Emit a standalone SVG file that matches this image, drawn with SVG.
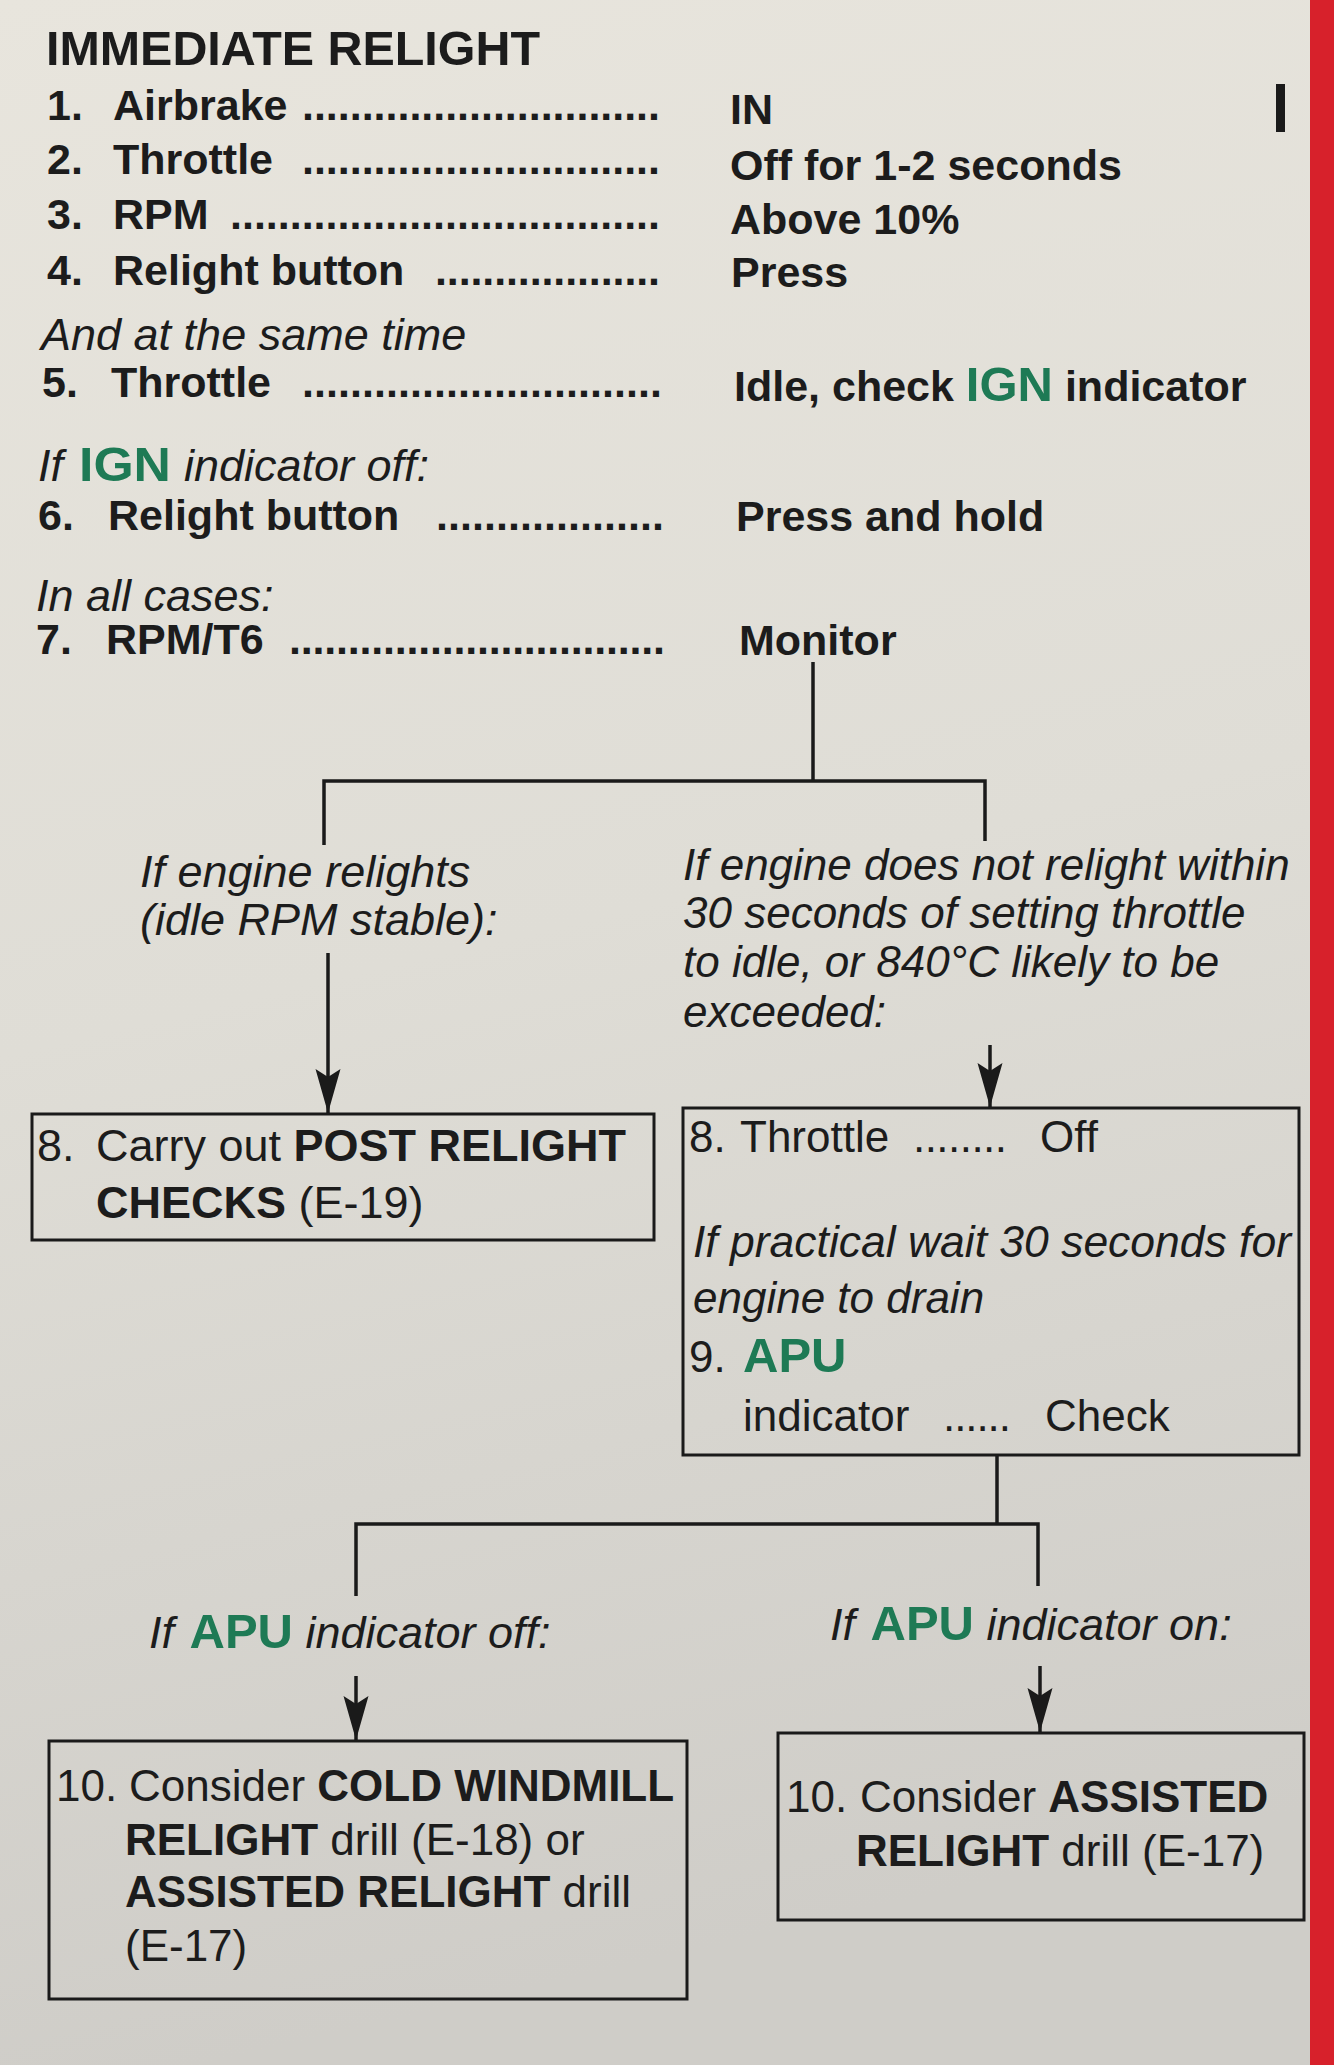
<svg xmlns="http://www.w3.org/2000/svg" width="1334" height="2065" viewBox="0 0 1334 2065">
<defs>
<linearGradient id="bg" x1="0" y1="0" x2="0.15" y2="1">
<stop offset="0" stop-color="#e8e5dd"/>
<stop offset="0.5" stop-color="#dfddd6"/>
<stop offset="1" stop-color="#cfcdc8"/>
</linearGradient>
<marker id="arr" markerUnits="userSpaceOnUse" viewBox="0 -13 44 26" refX="44" refY="0" markerWidth="44" markerHeight="26" orient="auto">
<path d="M0,-12.5 L44,0 L0,12.5 L8,0 Z" fill="#1a1a1a"/>
</marker>
<style>
.t{font-family:"Liberation Sans",Arial,Helvetica,sans-serif;fill:#1c1c1c}
.b{font-weight:bold}
.r{font-weight:normal}
.i{font-style:italic}
.g{fill:#1e7a55;font-weight:bold;font-style:normal;font-size:49px}
.s43{font-size:43px}
.s44{font-size:44px}
.s45{font-size:45px}
.ln{stroke:#1a1a1a;stroke-width:3.5;fill:none}
.bx{stroke:#1a1a1a;stroke-width:3;fill:none}
</style>
</defs>
<rect x="0" y="0" width="1334" height="2065" fill="url(#bg)"/>
<rect x="1310" y="0" width="24" height="2065" fill="#d7212b"/>
<rect x="1276" y="84" width="9" height="48" fill="#1a1a1a"/>

<g id="checklist" class="t b s43">
<text x="46" y="65" font-size="48" textLength="494" lengthAdjust="spacingAndGlyphs">IMMEDIATE RELIGHT</text>
<text x="47" y="120">1.</text><text x="113" y="120">Airbrake</text><text x="302" y="120" textLength="358" lengthAdjust="spacing">..............................</text><text x="730" y="124">IN</text>
<text x="47" y="174">2.</text><text x="113" y="174">Throttle</text><text x="302" y="174" textLength="358" lengthAdjust="spacing">..............................</text><text x="730" y="180">Off for 1-2 seconds</text>
<text x="47" y="229">3.</text><text x="113" y="229">RPM</text><text x="230" y="229" textLength="430" lengthAdjust="spacing">....................................</text><text x="730" y="234">Above 10%</text>
<text x="47" y="285">4.</text><text x="113" y="285">Relight button</text><text x="435" y="285" textLength="225" lengthAdjust="spacing">...................</text><text x="731" y="287">Press</text>
<text x="41" y="350" class="i r s45">And at the same time</text>
<text x="42" y="397">5.</text><text x="111" y="397">Throttle</text><text x="302" y="397" textLength="360" lengthAdjust="spacing">..............................</text><text x="734" y="401">Idle, check <tspan class="g">IGN</tspan> indicator</text>
<text x="38" y="481" class="i r s45">If</text><text x="79" y="481" class="g" textLength="92" lengthAdjust="spacingAndGlyphs">IGN</text><text x="184" y="481" class="i r s45">indicator off:</text>
<text x="38" y="530">6.</text><text x="108" y="530">Relight button</text><text x="436" y="530" textLength="228" lengthAdjust="spacing">...................</text><text x="736" y="531">Press and hold</text>
<text x="36" y="611" class="i r s45">In all cases:</text>
<text x="36" y="654">7.</text><text x="106" y="654">RPM/T6</text><text x="289" y="654" textLength="376" lengthAdjust="spacing">................................</text><text x="739" y="655">Monitor</text>
</g>

<g id="cond-relights" class="t i s45">
<text x="140" y="887">If engine relights</text>
<text x="140" y="935">(idle RPM stable):</text>
</g>

<g id="cond-no-relight" class="t i s44">
<text x="683" y="880">If engine does not relight within</text>
<text x="683" y="928">30 seconds of setting throttle</text>
<text x="683" y="977">to idle, or 840°C likely to be</text>
<text x="683" y="1027">exceeded:</text>
</g>

<g id="box-post-relight" class="t s45">
<rect class="bx" x="32" y="1114" width="622" height="126"/>
<text x="37" y="1161">8.</text>
<text x="96" y="1161">Carry out <tspan class="b">POST RELIGHT</tspan></text>
<text x="96" y="1218"><tspan class="b">CHECKS</tspan> (E-19)</text>
</g>

<g id="box-throttle-off" class="t s44">
<rect class="bx" x="683" y="1108" width="616" height="347"/>
<text x="689" y="1152">8.</text><text x="740" y="1152">Throttle</text><text x="913" y="1152" textLength="94" lengthAdjust="spacing">........</text><text x="1040" y="1152">Off</text>
<text x="693" y="1257" class="i" textLength="598" lengthAdjust="spacingAndGlyphs">If practical wait 30 seconds for</text>
<text x="693" y="1313" class="i">engine to drain</text>
<text x="689" y="1372">9.</text><text x="743" y="1372" class="g">APU</text>
<text x="743" y="1431">indicator</text><text x="943" y="1431" textLength="68" lengthAdjust="spacing">......</text><text x="1045" y="1431">Check</text>
</g>

<g id="cond-apu-off" class="t i s45">
<text x="149" y="1648">If <tspan class="g" dx="3">APU</tspan> indicator off:</text>
</g>

<g id="cond-apu-on" class="t i s45">
<text x="830" y="1640">If <tspan class="g" dx="3">APU</tspan> indicator on:</text>
</g>

<g id="box-cold-windmill" class="t s44">
<rect class="bx" x="49" y="1741" width="638" height="258"/>
<text x="56" y="1801">10.</text>
<text x="129" y="1801">Consider <tspan class="b">COLD WINDMILL</tspan></text>
<text x="125" y="1855"><tspan class="b">RELIGHT</tspan> drill (E-18) or</text>
<text x="125" y="1907"><tspan class="b">ASSISTED RELIGHT</tspan> drill</text>
<text x="125" y="1961">(E-17)</text>
</g>

<g id="box-assisted" class="t s44">
<rect class="bx" x="778" y="1733" width="526" height="187"/>
<text x="786" y="1812">10.</text>
<text x="860" y="1812">Consider <tspan class="b">ASSISTED</tspan></text>
<text x="856" y="1866"><tspan class="b">RELIGHT</tspan> drill (E-17)</text>
</g>

<g id="connectors">
<path class="ln" d="M813,662 V781"/>
<path class="ln" d="M324,845 V781 H985 V841"/>
<path class="ln" d="M328,953 V1113" marker-end="url(#arr)"/>
<path class="ln" d="M990,1045 V1107" marker-end="url(#arr)"/>
<path class="ln" d="M997,1455 V1524"/>
<path class="ln" d="M356,1596 V1524 H1038 V1586"/>
<path class="ln" d="M356,1676 V1740" marker-end="url(#arr)"/>
<path class="ln" d="M1040,1666 V1732" marker-end="url(#arr)"/>
</g>
</svg>
